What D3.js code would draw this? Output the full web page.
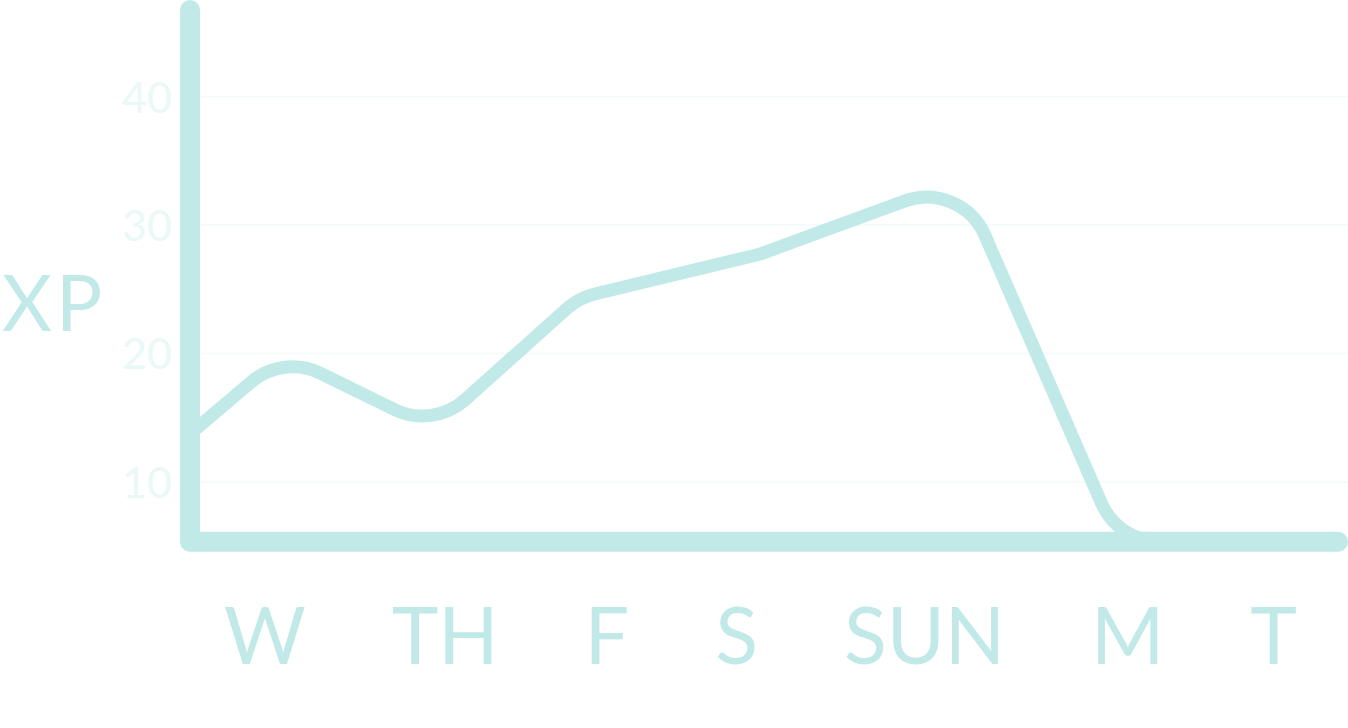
<!DOCTYPE html>
<html>
<head>
<meta charset="utf-8">
<script src="https://cdn.jsdelivr.net/npm/d3@7"></script>
<style>
  html, body { margin: 0; padding: 0; background: #ffffff; overflow: hidden; }
  svg { display: block; }
  text { font-family: Lato, "Noto Sans", sans-serif; }
</style>
</head>
<body>
<svg id="chart" width="1348" height="728"></svg>
<script>
// ---- data ----
const days = ["W", "TH", "F", "S", "SUN", "M", "T"];
const yTicks = [10, 20, 30, 40];
const yExtent = [5.33, 46.76];          // baseline value, top of y axis
const xExtent = [0, 7];                 // day-units along the x axis
const xpDayPos = [0, 0.567, 1.482, 2.372, 3.476, 4.701, 5.660, 7];
const xpValues = [13.72, 19.89, 14.15, 24.34, 27.74, 33.49, 5.33, 5.33];
const axisTitle = "XP";

// ---- style ----
const mainColor = "#c1e9e8";
const tickColor = "#ebf8f8";
const gridColor = "#f3fbfb";

const svg = d3.select("#chart");

const x = d3.scaleLinear().domain(xExtent).range([190, 1338]);
const y = d3.scaleLinear().domain(yExtent).range([541.7, 10]);

// rounded-corner polyline curve built on d3.path arcTo
function roundedCorners(radius) {
  return function(context) {
    let pts = [];
    return {
      areaStart() {}, areaEnd() {},
      lineStart() { pts = []; },
      point(px, py) { pts.push([+px, +py]); },
      lineEnd() {
        if (!pts.length) return;
        context.moveTo(pts[0][0], pts[0][1]);
        for (let i = 1; i < pts.length - 1; i++) {
          context.arcTo(pts[i][0], pts[i][1], pts[i + 1][0], pts[i + 1][1], radius);
        }
        if (pts.length > 1) context.lineTo(pts[pts.length - 1][0], pts[pts.length - 1][1]);
      }
    };
  };
}

// gridlines
svg.append("g").selectAll("line").data(yTicks).join("line")
  .attr("x1", x(xExtent[0]) + 10).attr("x2", 1348)
  .attr("y1", d => y(d)).attr("y2", d => y(d))
  .attr("stroke", gridColor).attr("stroke-width", 2);

// tick labels
svg.append("g").selectAll("text").data(yTicks).join("text")
  .attr("x", 172).attr("y", d => y(d) + 15.8)
  .attr("text-anchor", "end")
  .attr("font-size", 43)
  .attr("fill", tickColor)
  .text(d => d);

// data line
const pts = xpDayPos.map((d, i) => [d, xpValues[i]]);
const line = d3.line().x(d => x(d[0])).y(d => y(d[1])).curve(roundedCorners(64));
svg.append("path")
  .attr("d", line(pts))
  .attr("fill", "none")
  .attr("stroke", mainColor)
  .attr("stroke-width", 13);

// axes (L shape)
const axisPts = [[xExtent[0], yExtent[1]], [xExtent[0], yExtent[0]], [xExtent[1], yExtent[0]]];
svg.append("path")
  .attr("d", d3.line().x(d => x(d[0])).y(d => y(d[1]))(axisPts))
  .attr("fill", "none")
  .attr("stroke", mainColor)
  .attr("stroke-width", 20)
  .attr("stroke-linecap", "round")
  .attr("stroke-linejoin", "round");

// axis title
svg.append("text")
  .attr("x", 2).attr("y", 330.5)
  .attr("font-size", 77)
  .attr("letter-spacing", 4)
  .attr("fill", mainColor)
  .text(axisTitle);

// day labels, equal gaps between 225 and 1295
const labels = svg.append("g").selectAll("text").data(days).join("text")
  .attr("y", 664)
  .attr("font-size", 79)
  .attr("fill", mainColor)
  .text(d => d);
const widths = [];
labels.each(function() { widths.push(this.getComputedTextLength()); });
const left = 224, right = 1297;
const gap = (right - left - d3.sum(widths)) / (days.length - 1);
let cursor = left;
labels.each(function(d, i) {
  d3.select(this).attr("x", cursor);
  cursor += widths[i] + gap;
});
</script>
</body>
</html>
